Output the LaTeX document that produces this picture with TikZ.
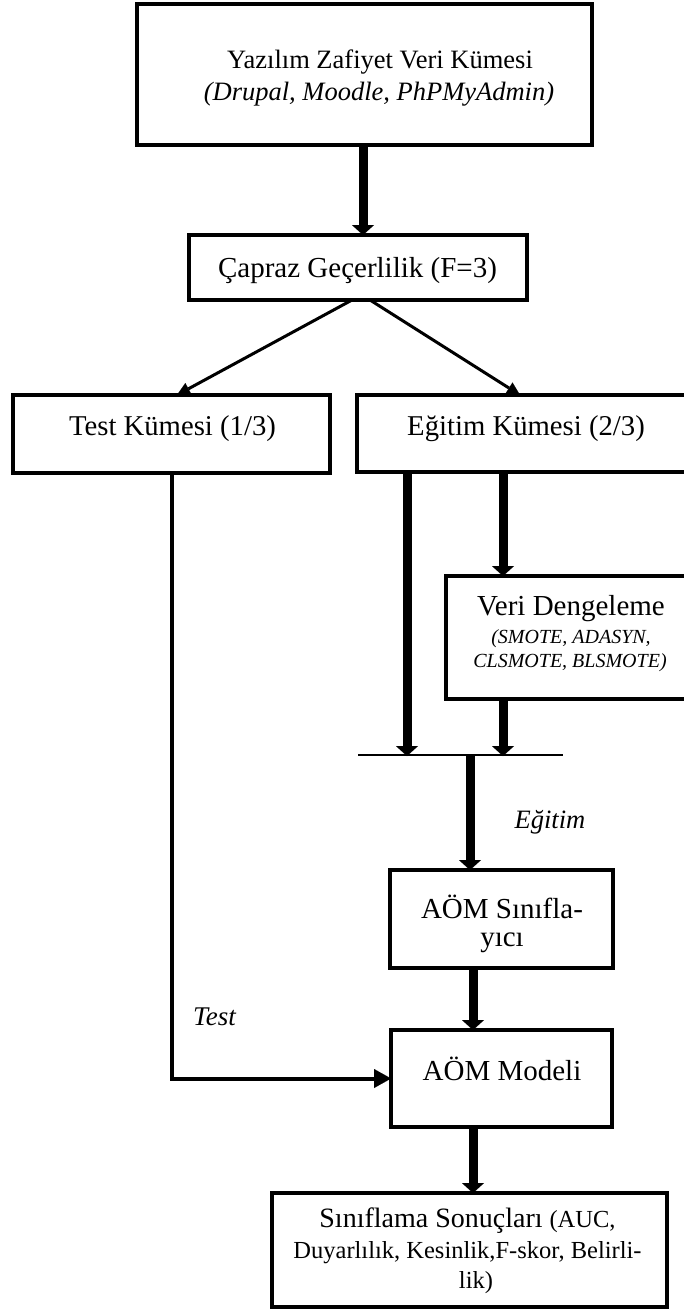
\documentclass[tikz,border=0pt]{standalone}
\usepackage{fontspec}
\setmainfont{Liberation Serif}
\usetikzlibrary{arrows.meta}
\begin{document}
\begin{tikzpicture}[x=1pt,y=-1pt,
  boxst/.style={draw, line width=4pt, rectangle, inner sep=0pt, outer sep=0pt},
  lbl/.style={anchor=base, inner sep=0pt, outer sep=0pt, font=\fontsize{29}{33}\selectfont},
  fatarrow/.style={line width=9pt, -{Triangle[width=22pt,length=10pt,line width=0.01pt]}},
  fatline/.style={line width=9pt},
  thinarrow/.style={line width=3pt, -{Triangle[width=13pt,length=13pt,line width=0.01pt]}},
  testarrow/.style={line width=4pt, line join=miter, -{Triangle[width=19pt,length=17pt,line width=0.01pt]}},
  barline/.style={line width=2pt}
]
\useasboundingbox (0,0) rectangle (684,1310);
\clip (0,0) rectangle (684,1310);

% boxes
\node[boxst, minimum width=455pt, minimum height=141pt] (src) at (364.5,74.5) {};
\node[boxst, minimum width=338pt, minimum height=65pt] (cv) at (358,267.5) {};
\node[boxst, minimum width=317pt, minimum height=78pt] (test) at (171.5,434) {};
\node[boxst, minimum width=338pt, minimum height=77pt] (train) at (526,433.5) {};
\node[boxst, minimum width=248pt, minimum height=123pt] (veri) at (570,637.5) {};
\node[boxst, minimum width=223pt, minimum height=98pt] (clf) at (501.5,919) {};
\node[boxst, minimum width=221pt, minimum height=97pt] (model) at (501.5,1078.5) {};
\node[boxst, minimum width=395pt, minimum height=114pt] (res) at (469.5,1250) {};

% texts
\node[lbl, font=\fontsize{26.5}{30}\selectfont] (srca) at (380,68) {Yazılım Zafiyet Veri Kümesi};
\node[lbl, font=\fontsize{26.5}{30}\selectfont\itshape] (srcb) at (379,100) {(Drupal, Moodle, PhPMyAdmin)};
\node[lbl] (cvt) at (357.5,277) {Çapraz Geçerlilik (F=3)};
\node[lbl, font=\fontsize{28.7}{33}\selectfont] (testt) at (172.5,435) {Test Kümesi (1/3)};
\node[lbl, font=\fontsize{28.7}{33}\selectfont] (traint) at (526,435) {Eğitim Kümesi (2/3)};
\node[lbl] (veria) at (571,615) {Veri Dengeleme};
\node[lbl, font=\fontsize{20}{24}\selectfont\itshape] (verib) at (571,643) {(SMOTE, ADASYN,};
\node[lbl, font=\fontsize{20}{24}\selectfont\itshape] (veric) at (570,667) {CLSMOTE, BLSMOTE)};
\node[lbl] (clfa) at (502,918) {AÖM Sınıfla-};
\node[lbl] (clfb) at (502,946) {yıcı};
\node[lbl] (modelt) at (502,1080) {AÖM Modeli};
\node[lbl, font=\fontsize{28}{32}\selectfont] (resa) at (467.5,1227) {Sınıflama Sonuçları {\fontsize{24.5}{28}\selectfont (AUC,}};
\node[lbl, font=\fontsize{24.5}{28}\selectfont] (resb) at (467.5,1258) {Duyarlılık, Kesinlik,F-skor, Belirli-};
\node[lbl, font=\fontsize{24.5}{28}\selectfont] (resc) at (476,1288) {lik)};
\node[lbl, font=\fontsize{26.5}{30}\selectfont\itshape] (egl) at (550,828) {Eğitim};
\node[lbl, font=\fontsize{27}{30}\selectfont\itshape] (tsl) at (214.5,1025) {Test};

% x positions
\coordinate (xa) at (363,0);
\coordinate (xd1) at (352,0);
\coordinate (xd2) at (177,0);
\coordinate (xd3) at (370,0);
\coordinate (xd4) at (520,0);
\coordinate (xt) at (172,0);
\coordinate (xl) at (407,0);
\coordinate (xr) at (503,0);
\coordinate (xm) at (470,0);
\coordinate (xb) at (473,0);
\coordinate (hl) at (358,755);
\coordinate (hr) at (563,755);
\coordinate (hla) at (407,756);
\coordinate (hra) at (503,756);
\coordinate (hm) at (470,755);

% connectors
\draw[fatarrow] (src.south -| xa) -- (cv.north -| xa);
\draw[thinarrow] (cv.south -| xd1) -- (test.north -| xd2);
\draw[thinarrow] (cv.south -| xd3) -- (train.north -| xd4);
\draw[testarrow] (test.south -| xt) |- (model.west);
\draw[fatarrow] (train.south -| xl) -- (hla);
\draw[fatarrow] (train.south -| xr) -- (veri.north -| xr);
\draw[fatarrow] (veri.south -| xr) -- (hra);
\draw[barline] (hl) -- (hr);
\draw[fatarrow] (hm) -- (clf.north -| xm);
\draw[fatarrow] (clf.south -| xb) -- (model.north -| xb);
\draw[fatarrow] (model.south -| xb) -- (res.north -| xb);
\end{tikzpicture}
\end{document}
